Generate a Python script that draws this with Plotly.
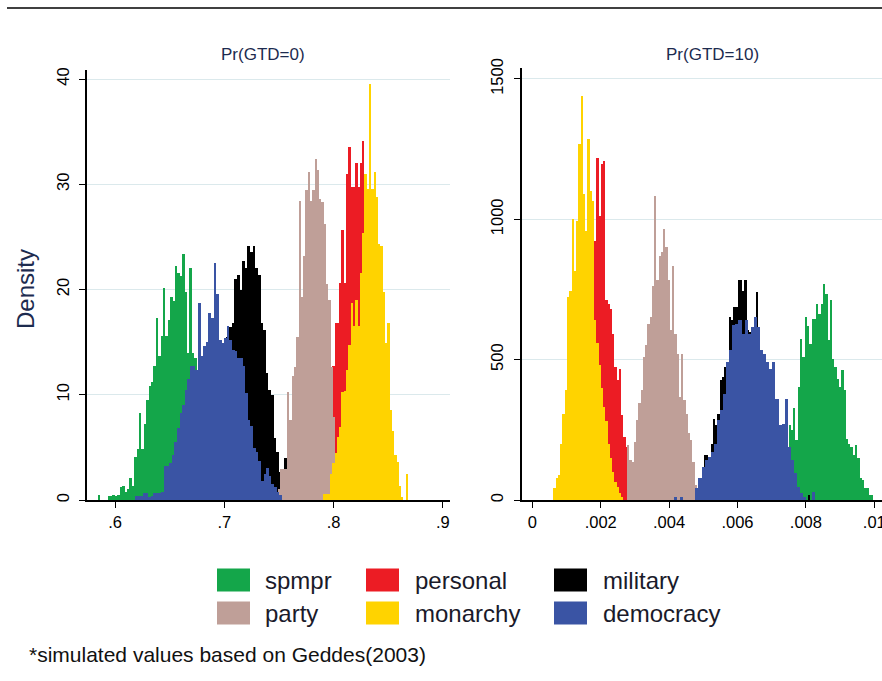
import numpy as np
import plotly.graph_objects as go

W, H = 882, 681

# ---------------- data ----------------
series_names = ["spmpr", "personal", "military", "party", "monarchy", "democracy"]
series_colors = ["#14a64a", "#ec1c24", "#000000", "#bf9f98", "#ffd300", "#3a54a4"]

# Pr(GTD=0): first bin edge and bin width per series (same order as series_names)
gtd0_bin_start = [0.5845, 0.7946, 0.6852, 0.7490, 0.7904, 0.6183]
gtd0_bin_width = [0.0022, 0.0021, 0.0024, 0.0021, 0.0021, 0.0024]
gtd0_spmpr = [0.5, 0, 0, 0, 0.4, 0.4, 0.5, 0.4, 0.5, 1.2, 1.3, 0.8, 1.0, 2.1, 1.3, 4.1, 4.8, 8.3,
              4.8, 7.2, 9.5, 10.8, 11.2, 12.7, 17.3, 13.7, 15.6, 20.1, 15.6, 17.1, 19.3, 18.9, 22.2,
              21.6, 21.3, 23.4, 19.8, 14.0, 22.0, 14.0, 13.5, 12.0, 10.0, 8.0, 6.0, 4.0, 2.5, 1.5, 0.5]
gtd0_personal = [3.0, 6.0, 12.7, 16.8, 16.8, 20.6, 25.7, 20.6, 31.0, 33.5, 29.7, 29.7, 32.0, 29.7,
                 32.0, 34.1, 26, 22, 18, 14, 10, 7, 4, 2, 1]
gtd0_military = [2, 4, 6, 8, 10, 12, 13, 15.5, 16.4, 16.8, 21.0, 21.4, 20.0, 22.7, 22.0, 24.1, 23.6,
                 24.1, 22.0, 21.4, 16.8, 16.2, 12.1, 10.5, 10.0, 5.9, 4.6, 2.7, 2.5, 4.0]
gtd0_party = [1.0, 2.9, 2.9, 2.9, 10.3, 7.6, 11.8, 12.6, 15.5, 28.4, 19.3, 23.2, 29.5, 31.2, 28.4,
              29.5, 32.4, 31.4, 28.6, 28.3, 26.2, 20.5, 19.0, 12.6, 7.9, 3.5, 1.5]
gtd0_monarchy = [0.6, 0.6, 0.6, 2.5, 3.5, 4.5, 6.0, 6.9, 10.3, 10.4, 12.4, 14.7, 18.7, 16.5, 19.0,
                 16.5, 21.6, 25.4, 31.0, 29.6, 39.5, 29.6, 31.2, 28.8, 24.3, 24.1, 19.8, 14.9, 16.8,
                 8.6, 6.6, 4.3, 3.6, 1.3, 0.3, 0, 2.5]
gtd0_democracy = [0.4, 0.4, 0.4, 0.7, 0.7, 0.3, 0.4, 0.7, 0.7, 0.7, 0.8, 3.2, 3.2, 3.5, 4.3, 5.5, 6.8,
                  8.3, 9.0, 10.5, 11.5, 12.7, 12.7, 12.4, 18.7, 13.7, 14.6, 15.0, 17.8, 17.3, 22.5,
                  19.6, 15.2, 14.9, 15.4, 16.5, 15.2, 14.3, 14.2, 13.5, 13.5, 12.7, 10.2, 7.6, 7.0,
                  4.9, 4.6, 3.7, 1.8, 2.5, 3.0, 2.3, 1.5, 1.2, 0.8, 0.5]

# Pr(GTD=10)
gtd10_bin_start = [0.007284, 0.001006, 0.004806, 0.002760, 0.000610, 0.004130]
gtd10_bin_width = [0.000067, 0.000066, 0.000066, 0.000066, 0.000066, 0.000090]
gtd10_spmpr = [40, 80, 142, 267, 249, 326, 213, 403, 575, 509, 651, 621, 556, 646, 646, 699, 664,
               699, 770, 734, 569, 711, 503, 474, 432, 403, 462, 391, 218, 201, 190, 160, 195, 148,
               77, 71, 41, 41, 18, 18]
gtd10_personal = [60, 120, 200, 300, 420, 520, 620, 700, 760, 800, 820, 841, 924, 1220, 1011, 1197,
                  1208, 711, 700, 682, 592, 474, 426, 468, 302, 225, 190, 107, 40]
gtd10_military = [36, 36, 77, 160, 160, 142, 201, 290, 266, 308, 426, 438, 474, 486, 651, 640, 687,
                  687, 782, 782, 746, 782, 604, 599, 560, 520, 740, 450, 430, 380, 491, 300, 220,
                  150, 100, 60, 30, 10, 0, 0, 0, 0, 0, 0, 0, 0, 0, 0, 0, 17]
gtd10_party = [196, 142, 137, 208, 285, 344, 391, 509, 551, 628, 651, 764, 1084, 782, 871, 882, 965,
               900, 782, 604, 835, 592, 521, 367, 521, 355, 308, 237, 213, 137, 53, 18]
gtd10_monarchy = [41, 77, 89, 201, 308, 391, 723, 746, 1001, 817, 995, 1268, 1439, 1090, 960, 1285,
                  1102, 1066, 640, 560, 480, 400, 330, 280, 200, 150, 100, 65, 45, 25, 10]
gtd10_democracy = [12, 0, 12, 0, 0, 0, 0, 41, 80, 118, 142, 154, 172, 201, 284, 320, 379, 491, 533,
                   622, 628, 640, 592, 640, 592, 616, 651, 616, 533, 521, 491, 467, 491, 361, 267,
                   272, 361, 190, 142, 95, 47, 24, 12, 0, 0, 30]

gtd0_heights = [gtd0_spmpr, gtd0_personal, gtd0_military, gtd0_party, gtd0_monarchy, gtd0_democracy]
gtd10_heights = [gtd10_spmpr, gtd10_personal, gtd10_military, gtd10_party, gtd10_monarchy, gtd10_democracy]

panel_titles = ["Pr(GTD=0)", "Pr(GTD=10)"]
gtd0_xticks = [0.6, 0.7, 0.8, 0.9]
gtd0_xticktext = [".6", ".7", ".8", ".9"]
gtd0_yticks = [0, 10, 20, 30, 40]
gtd10_xticks = [0, 0.002, 0.004, 0.006, 0.008, 0.01]
gtd10_xticktext = ["0", ".002", ".004", ".006", ".008", ".01"]
gtd10_yticks = [0, 500, 1000, 1500]
y_title = "Density"
note_text = "*simulated values based on Geddes(2003)"

# ---------------- figure ----------------
FONT = "Liberation Sans, Arial, sans-serif"
NAVY = "#1d2b4f"


def px_x(p):
    return p / W


def px_y(p):
    return (H - p) / H


fig = go.Figure()
for heights, starts, widths, xa, ya in [
    (gtd0_heights, gtd0_bin_start, gtd0_bin_width, "x", "y"),
    (gtd10_heights, gtd10_bin_start, gtd10_bin_width, "x2", "y2"),
]:
    for name, color, h, s, w in zip(series_names, series_colors, heights, starts, widths):
        centers = s + w * (np.arange(len(h)) + 0.5)
        fig.add_trace(go.Bar(
            x=centers, y=h, width=w, name=name, showlegend=False, hoverinfo="skip",
            marker=dict(color=color, line=dict(width=0)),
            xaxis=xa, yaxis=ya,
        ))

axis_common = dict(
    showline=True, linecolor="black", linewidth=1.5,
    ticks="outside", ticklen=6, tickwidth=1.2, tickcolor="black",
    tickfont=dict(family=FONT, size=16.5, color="black"),
    zeroline=False, automargin=False, ticklabeloverflow="allow",
)

fig.update_layout(
    template="none",
    width=W, height=H, autosize=False,
    margin=dict(l=0, r=0, t=0, b=0, pad=0),
    paper_bgcolor="white", plot_bgcolor="white",
    barmode="overlay", bargap=0,
    showlegend=False,
    xaxis=dict(domain=[px_x(87), px_x(450)], range=[0.57438, 0.9065], anchor="y",
               tickvals=gtd0_xticks, ticktext=gtd0_xticktext, showgrid=False, **axis_common),
    yaxis=dict(domain=[px_y(500), px_y(70)], range=[0, 40.86], anchor="x",
               tickvals=gtd0_yticks, tickangle=-90, ticklabelstandoff=4,
               showgrid=True, gridcolor="#dbe9ec", gridwidth=1, **axis_common),
    xaxis2=dict(domain=[px_x(521.7), 1.0], range=[-0.00031, 0.010225], anchor="y2",
                tickvals=gtd10_xticks, ticktext=gtd10_xticktext, showgrid=False, **axis_common),
    yaxis2=dict(domain=[px_y(500), px_y(68)], range=[0, 1539], anchor="x2",
                tickvals=gtd10_yticks, tickangle=-90, ticklabelstandoff=4,
                showgrid=True, gridcolor="#dbe9ec", gridwidth=1, **axis_common),
)

annotations = []
shapes = []
# panel titles
for title, cx in zip(panel_titles, [263, 712]):
    annotations.append(dict(text=title, x=px_x(cx), y=px_y(55), xref="paper", yref="paper",
                            xanchor="center", yanchor="middle", showarrow=False,
                            font=dict(family=FONT, size=17, color=NAVY)))
# y title
annotations.append(dict(text=y_title, x=px_x(25), y=px_y(289), xref="paper", yref="paper",
                        xanchor="center", yanchor="middle", textangle=-90, showarrow=False,
                        font=dict(family=FONT, size=24, color=NAVY)))
# note
annotations.append(dict(text=note_text, x=px_x(27), y=px_y(654), xref="paper", yref="paper",
                        xanchor="left", yanchor="middle", showarrow=False,
                        font=dict(family=FONT, size=21, color="#111111")))

# legend (3 columns x 2 rows)
col_swatch = [217, 366, 554]
col_text = [263, 413, 601]
row_center = [580, 613]
for i, (name, color) in enumerate(zip(series_names, series_colors)):
    r, c = divmod(i, 3)
    cy = row_center[r]
    shapes.append(dict(type="rect", xref="paper", yref="paper",
                       x0=px_x(col_swatch[c]), x1=px_x(col_swatch[c] + 33),
                       y0=px_y(cy + 11.5), y1=px_y(cy - 11.5),
                       fillcolor=color, line=dict(width=0)))
    annotations.append(dict(text=name, x=px_x(col_text[c]), y=px_y(cy), xref="paper", yref="paper",
                            xanchor="left", yanchor="middle", showarrow=False,
                            font=dict(family=FONT, size=24, color="#1a1a2a")))

# rule at the top of the page
shapes.append(dict(type="line", xref="paper", yref="paper", x0=px_x(7), x1=1.0,
                   y0=px_y(8), y1=px_y(8), line=dict(color="black", width=1.5)))

fig.update_layout(annotations=annotations, shapes=shapes)
fig.write_html(
    "out.html",
    config={"displayModeBar": False},
    post_script="document.body.style.margin='0px';document.body.style.overflow='hidden';"
                "document.documentElement.style.overflow='hidden';",
)
